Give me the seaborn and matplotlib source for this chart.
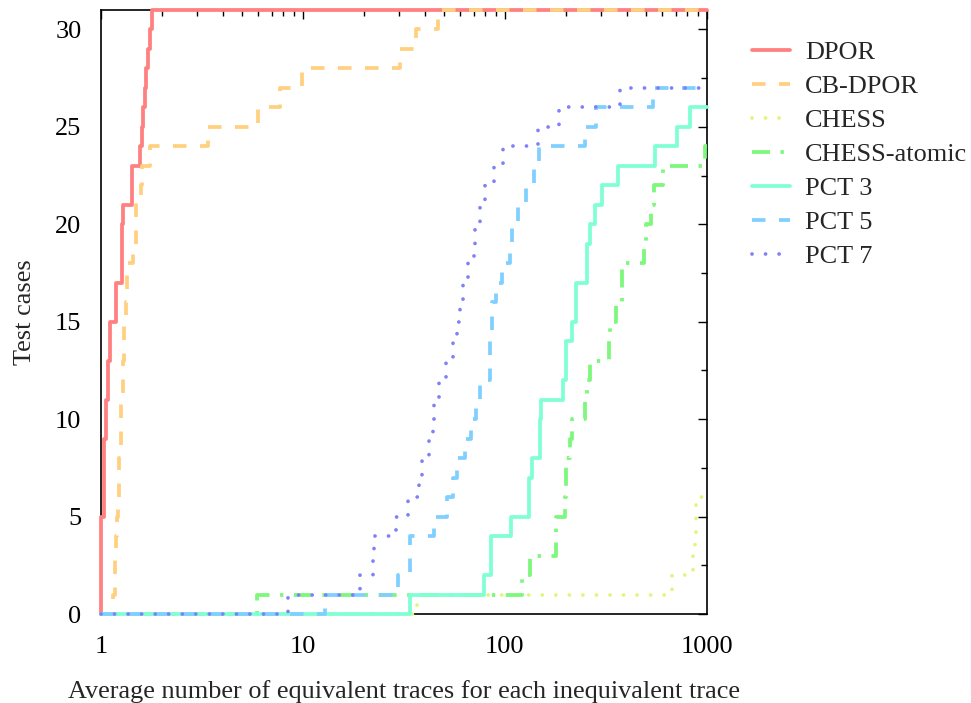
import numpy as np
import pandas as pd
import matplotlib
matplotlib.use("Agg")
import matplotlib.pyplot as plt
from matplotlib.ticker import MultipleLocator, LogLocator, NullFormatter, FixedLocator, FixedFormatter
import seaborn as sns

# Sorted per-test-case values (avg equivalent traces per inequivalent trace)
methods = ["DPOR", "CB-DPOR", "CHESS", "CHESS-atomic", "PCT 3", "PCT 5", "PCT 7"]

dpor = [1.0, 1.0, 1.0, 1.0, 1.0, 1.035, 1.035, 1.035, 1.035, 1.058, 1.058,
        1.087, 1.087, 1.108, 1.108, 1.18, 1.18, 1.266, 1.266, 1.266, 1.29,
        1.42, 1.42, 1.56, 1.59, 1.62, 1.65, 1.68, 1.71, 1.75, 1.78]
cb_dpor = [1.15, 1.17, 1.17, 1.19, 1.20, 1.22, 1.23, 1.23, 1.25, 1.26, 1.26,
           1.29, 1.29, 1.30, 1.30, 1.33, 1.34, 1.34, 1.44, 1.49, 1.49, 1.58,
           1.60, 1.74, 3.4, 6.0, 7.7, 9.85, 30.3, 36.4, 46.8]
chess = [36.5, 675, 855, 872, 880, 888]
chess_atomic = [5.9, 122, 133, 180, 180, 198, 200, 201, 210, 215, 248, 255,
                263, 326, 330, 356, 378, 381, 488, 497, 530, 545, 608, 976]
pct3 = [33.9, 78.7, 85.6, 85.6, 107.6, 131.8, 131.8, 135.6, 148.7, 148.7, 151,
        194, 200, 200, 214, 226, 226, 255, 255, 263, 279, 301, 363, 552, 708, 824]
pct5 = [12.9, 29.6, 33.9, 33.9, 44.3, 51.4, 55.6, 57.6, 63.3, 67.6, 72.3, 75.5,
        84.3, 84.3, 86, 86, 90, 96.5, 105.7, 109, 116, 127.5, 140, 147, 248, 282, 538]
pct7 = [8.4, 19.2, 22.3, 22.4, 29.0, 33.0, 37.5, 38.8, 42.0, 44.0, 44.7, 47.2,
        51.0, 55.5, 57.6, 59.6, 62.0, 66.0, 70.0, 71.5, 75.6, 80.0, 88.0, 98.0,
        145, 185, 370]

series = [dpor, cb_dpor, chess, chess_atomic, pct3, pct5, pct7]
colors = ["#ff8080", "#ffd080", "#dcf87c", "#7cf87c", "#80ffd4", "#80d0ff", "#8080f8"]
# dash patterns in linewidth units (None = solid)
dashes = [None, (3.6, 3.6), (0.01, 3.6), (4.8, 2.8, 0.9, 2.8), None, (3.6, 3.6), (0.01, 3.6)]
caps = ["butt", "butt", "round", "butt", "butt", "butt", "round"]

x_min, x_max = 1, 1000
FS = 18.9

sns.set_style("white")
plt.rcParams["font.family"] = ["Liberation Serif", "DejaVu Serif"]
plt.rcParams["font.size"] = FS


def cumulative_steps(values):
    xs = [x_min] + sorted(values) + [x_max]
    ys = [0] + list(range(1, len(values) + 1)) + [len(values)]
    return pd.DataFrame({"x": xs, "y": ys})


fig, ax = plt.subplots(figsize=(9.71, 7.03), dpi=100)
fig.subplots_adjust(left=0.104, right=0.728, bottom=0.1266, top=0.9858)

for name, vals, col, dash, cap in zip(methods, series, colors, dashes, caps):
    df = cumulative_steps(vals)
    sns.lineplot(data=df, x="x", y="y", estimator=None, sort=False, color=col,
                 linewidth=2.7, drawstyle="steps-post", label=name, ax=ax,
                 clip_on=False, zorder=3)
    line = ax.lines[-1]
    if dash is not None:
        line.set_dashes(dash)
    line.set_dash_capstyle(cap)

ax.set_xscale("log")
ax.set_xlim(x_min, x_max)
ax.set_ylim(0, 31)

ax.xaxis.set_major_locator(FixedLocator([1, 10, 100, 1000]))
ax.xaxis.set_major_formatter(FixedFormatter(["1", "10", "100", "1000"]))
ax.xaxis.set_minor_locator(LogLocator(base=10, subs=np.arange(2, 10)))
ax.xaxis.set_minor_formatter(NullFormatter())
ax.yaxis.set_major_locator(MultipleLocator(5))
ax.yaxis.set_minor_locator(MultipleLocator(2.5))

ax.tick_params(which="both", direction="in", top=True, right=True, width=1.0, colors="black")
ax.tick_params(which="major", length=6.5)
ax.tick_params(which="minor", length=4.5)
ax.tick_params(axis="x", which="major", pad=16, labelsize=FS)
ax.tick_params(axis="y", which="major", pad=14, labelsize=FS)

for spine in ax.spines.values():
    spine.set_visible(True)
    spine.set_color("black")
    spine.set_linewidth(1.2)

ax.set_xlabel("Average number of equivalent traces for each inequivalent trace", fontsize=FS, labelpad=16)
ax.set_ylabel("Test cases", fontsize=FS, labelpad=14)

ax.legend(loc="upper left", bbox_to_anchor=(1.074, 0.949), frameon=False,
          borderaxespad=0, borderpad=0, handlelength=1.45, handletextpad=0.57,
          labelspacing=0.405, fontsize=FS)

fig.savefig("out.png", dpi=100)
